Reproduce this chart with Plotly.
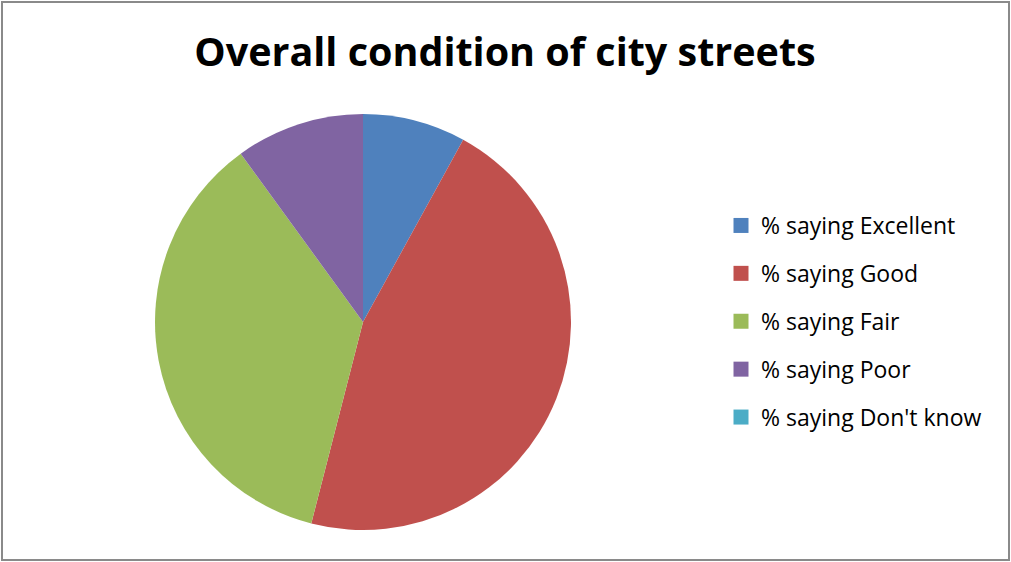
import plotly.graph_objects as go

categories = ["% saying Excellent", "% saying Good", "% saying Fair", "% saying Poor", "% saying Don't know"]
values = [8, 46, 36, 10, 0]
colors = ["#4F81BD", "#C0504D", "#9BBB59", "#8064A2", "#4BACC6"]
title_text = "Overall condition of city streets"

W, H = 1011, 562

fig = go.Figure()
fig.add_trace(go.Pie(
    labels=categories, values=values, sort=False, direction="clockwise", rotation=0,
    marker=dict(colors=colors, line=dict(width=0)), textinfo="none", hoverinfo="label+value",
    showlegend=False,
    domain=dict(x=[155 / W, 571 / W], y=[32 / H, 448 / H]),
))
for i, (c, col) in enumerate(zip(categories, colors)):
    fig.add_trace(go.Scatter(
        x=[None], y=[None], mode="markers", name=c, legendgroup=f"g{i}",
        marker=dict(symbol="square", size=15, color=col),
    ))

fig.add_shape(type="rect", xref="paper", yref="paper",
              x0=2 / W, x1=1009 / W, y0=1 - 560 / H, y1=1 - 2 / H,
              line=dict(color="#8a8a8a", width=2), layer="below")

fig.update_layout(
    width=W, height=H, margin=dict(l=0, r=0, t=0, b=0),
    paper_bgcolor="white", plot_bgcolor="white",
    title=dict(text=f"<b>{title_text}</b>", x=505 / W, xanchor="center",
               y=1 - 52 / H, yanchor="middle",
               font=dict(family="Open Sans", size=39.5, color="black")),
    xaxis=dict(visible=False), yaxis=dict(visible=False),
    legend=dict(x=721 / W, xanchor="left", y=1 - 204 / H, yanchor="top",
                font=dict(family="Open Sans", size=23, color="black"),
                tracegroupgap=15, bgcolor="rgba(0,0,0,0)"),
)

fig.write_html("out.html", config={"displayModeBar": False},
               post_script="document.body.style.margin='0';document.body.style.padding='0';")
